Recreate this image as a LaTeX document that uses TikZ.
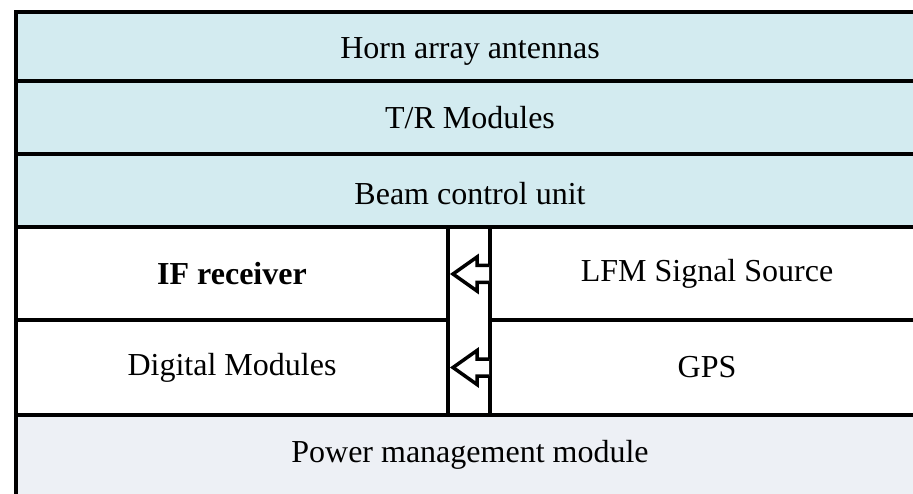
\documentclass[tikz,border=0pt]{standalone}
\usepackage{fontspec}
\setmainfont{Liberation Serif}
\usetikzlibrary{positioning}
\definecolor{layerblue}{HTML}{D3EBF0}
\definecolor{powergray}{HTML}{EDF0F5}

\begin{document}
\begin{tikzpicture}[
  x=1pt,y=-1pt,
  layer/.style={draw=black,line width=4pt,outer sep=0pt,inner sep=0pt,
                anchor=north west,font=\fontsize{32}{38}\selectfont},
  wide/.style={layer,minimum width=908pt},
  half/.style={layer,minimum width=432pt},
  rhalf/.style={layer,minimum width=434pt},
  arrowline/.style={draw=black,fill=white,line width=3.5pt,miter limit=4},
  hollowarrow/.pic={
    \draw[arrowline] (41,-8.5) -- (29,-8.5) -- (29,-17) -- (5,0)
      -- (29,17) -- (29,8.5) -- (41,8.5);
  }
]
  \useasboundingbox (0,0) rectangle (913,494);
  \clip (0,0) rectangle (913,494);

  % Stacked layers (cut off on the right and at the bottom)
  \node[wide,fill=layerblue,minimum height=69pt,text height=31pt,text depth=7pt] (horn) at (16,12) {Horn array antennas};
  \node[wide,fill=layerblue,minimum height=73.5pt] (tr) at (horn.south west) {T/R Modules};
  \node[wide,fill=layerblue,minimum height=73pt,text height=28pt,text depth=0pt] (beam) at (tr.south west) {Beam control unit};

  % Left and right halves with the pipe in between
  \node[half,fill=white,minimum height=93pt] (ifrx) at (beam.south west) {\bfseries IF receiver};
  \node[half,fill=white,minimum height=94pt] (dig) at (ifrx.south west) {Digital Modules};
  \node[layer,fill=white,minimum width=42pt,minimum height=187pt] (pipe) at (ifrx.north east) {};
  \node[rhalf,fill=white,minimum height=93pt] (lfm) at (pipe.north east) {LFM Signal Source};
  \node[rhalf,fill=white,minimum height=94pt] (gps) at (lfm.south west) {GPS};

  \node[wide,fill=powergray,minimum height=81.5pt] (power) at (dig.south west) {Power management module};

  % Hollow arrows from the right column to the left column
  \pic at (ifrx.east) {hollowarrow};
  \pic at (dig.east) {hollowarrow};
\end{tikzpicture}
\end{document}
